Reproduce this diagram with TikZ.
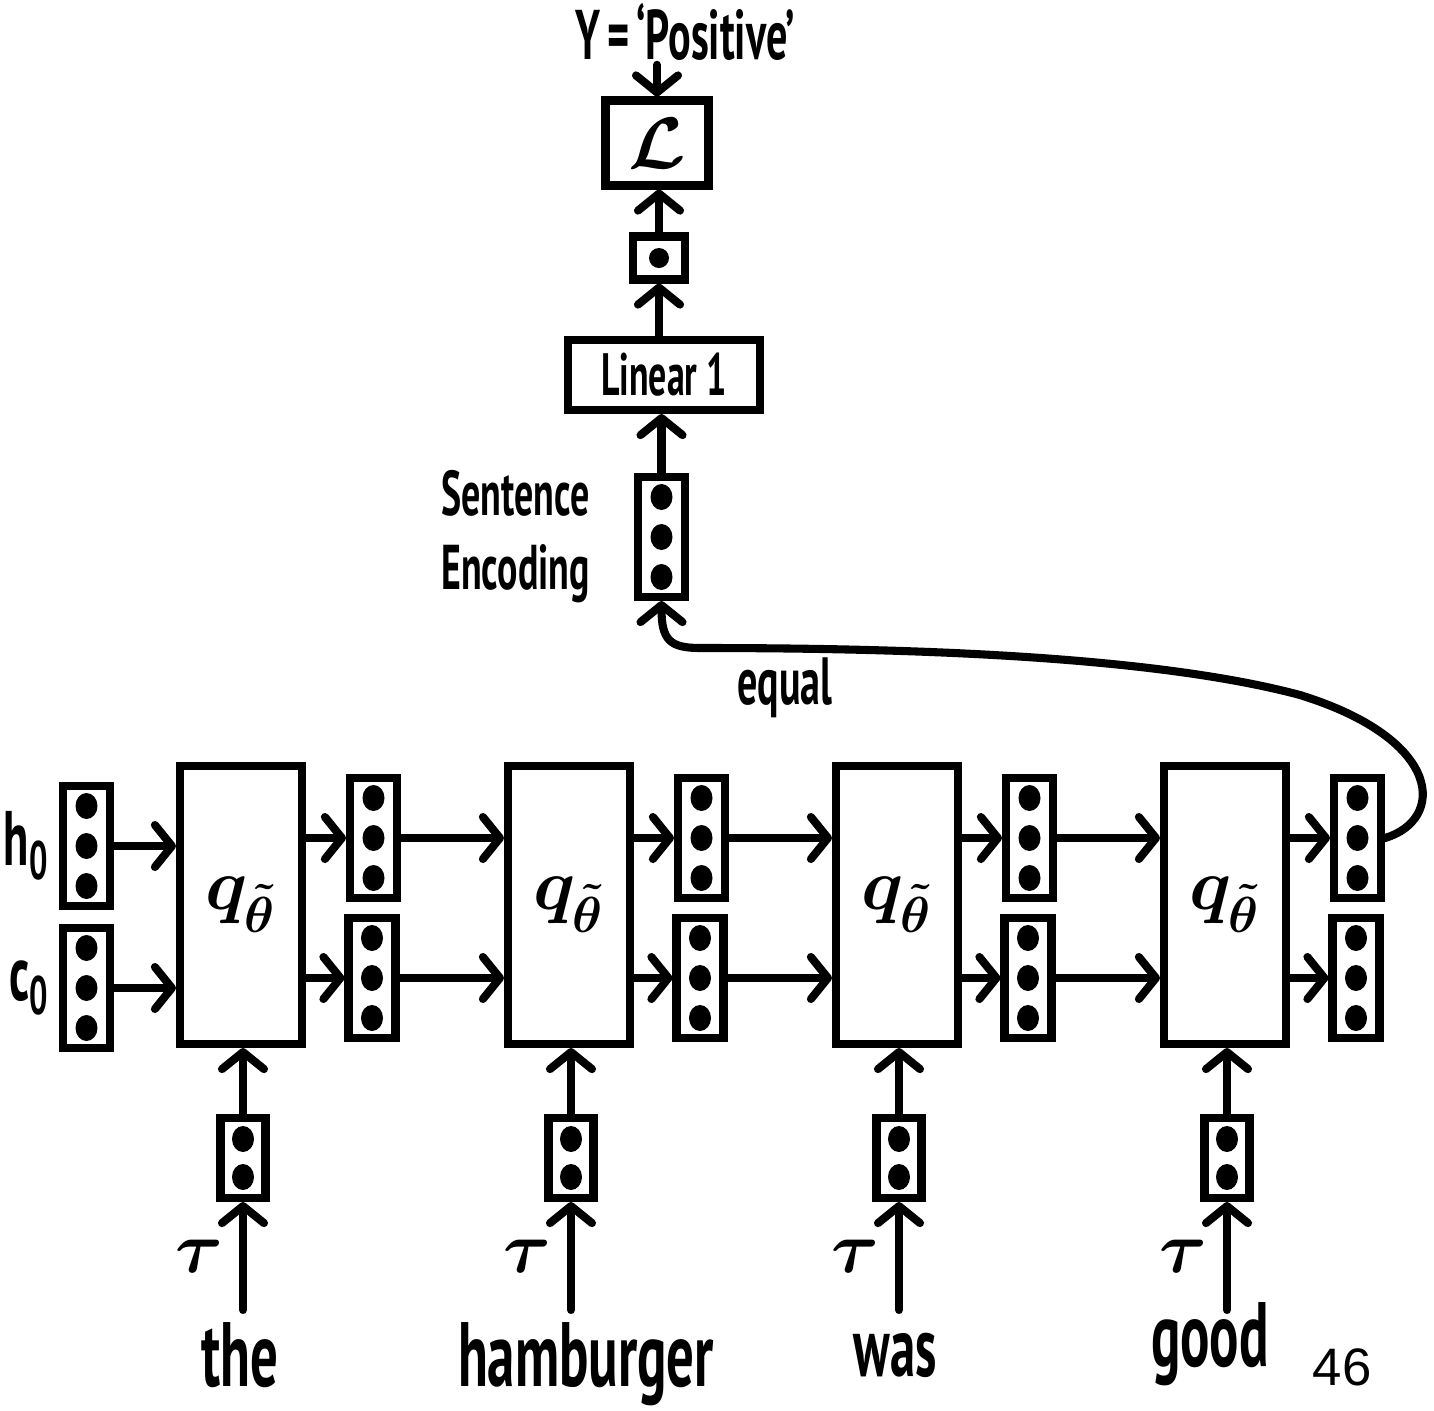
\documentclass[tikz,border=0pt]{standalone}
\usepackage{fontspec}
\setmainfont{PT Sans}
\newfontfamily\pagefont{Liberation Sans}
\usepackage{amsmath, bm}
\usepackage{graphicx}
\usetikzlibrary{positioning, arrows.meta}
\newcommand{\hand}[1]{\scalebox{0.6}[1]{#1}}

\begin{document}
\begin{tikzpicture}[
        vec/.style={draw, line width=2.3pt, minimum width=0.47cm, minimum height=1.2cm, inner sep=0pt},
        wordvec/.style={vec, minimum width=0.45cm, minimum height=0.8cm},
        cell/.style={draw, line width=2.3pt, minimum width=1.22cm, minimum height=2.78cm, font=\huge},
        box/.style={draw, line width=2.3pt, inner sep=0pt},
        arrow/.style={-{Straight Barb[round, length=1.7mm, width=4.2mm]}, line width=2.3pt, line cap=round},
        hand/.style={font=\bfseries\fontsize{#1}{#1}\selectfont, inner sep=1pt},
        hand/.default=22
        ]
        \useasboundingbox (0,0) rectangle (14.34,-14.11);

        % Output side
        \node[hand=20] (target) at (6.85,-0.32) {\hand{Y\,=\,`Positive'}};
        \node[box, minimum width=1.03cm, minimum height=0.85cm, font=\huge] (loss) at (6.57,-1.43) {$\bm{\mathcal{L}}$};
        \node[box, minimum width=0.52cm, minimum height=0.43cm] (prob) at (6.59,-2.58) {};
        \node[box, minimum width=1.92cm, minimum height=0.70cm, hand=17] (linear) at (6.64,-3.75) {\hand{Linear 1}};
        \node[vec] (senc) at (6.615,-5.37) {};
        \node[hand={18}, align=center, left=0.4cm of senc] (senclab) {\hand{Sentence}\\[3pt]\hand{Encoding}};

        % Initial states
        \node[vec] (h0) at (0.865,-8.46) {};
        \node[vec] (c0) at (0.865,-9.88) {};
        \node[hand=22, left=0.06cm of h0] (h0lab) {\hand{h\textsubscript{0}}};
        \node[hand=22, left=0.06cm of c0] (c0lab) {\hand{c\textsubscript{0}}};

        % LSTM cells, hidden / cell states, word vectors
        \foreach \i in {1,...,4} {
            \node[cell] (cell\i) at ({2.41+(\i-1)*3.28}, -9.05) {$\bm{q_{\tilde{\theta}}}$};
            \node[vec] (htop\i) at ({3.735+(\i-1)*3.28}, -8.38) {};
            \node[vec] (hbot\i) at ({3.72+(\i-1)*3.28}, -9.78) {};
            \node[wordvec] (emb\i) at ({2.43+(\i-1)*3.28}, -11.58) {};
            \coordinate (in\i) at ({2.43+(\i-1)*3.28}, -13.10);
        }

        % Words
        \node[hand=26, anchor=base] (w1) at (2.40,-13.86) {\hand{the}};
        \node[hand=26, anchor=base] (w2) at (5.86,-13.86) {\hand{hamburger}};
        \node[hand=24, anchor=base] (w3) at (8.95,-13.76) {\hand{was}};
        \node[hand=26, anchor=base] (w4) at (12.10,-13.66) {\hand{good}};
        \node[font=\pagefont\fontsize{15}{15}\selectfont, anchor=base] (page) at (13.42,-13.85) {46};

        % Dots in the vectors
        \foreach \v in {h0,c0,senc,htop1,htop2,htop3,htop4,hbot1,hbot2,hbot3,hbot4} {
            \foreach \dy in {0.4,0,-0.4} {
                \fill (\v.center) ++(0,\dy) ellipse (0.11 and 0.13);
            }
        }
        \foreach \v in {emb1,emb2,emb3,emb4} {
            \foreach \dy in {0.19,-0.19} {
                \fill (\v.center) ++(0,\dy) ellipse (0.11 and 0.13);
            }
        }
        \fill (prob.center) ellipse (0.1 and 0.1);

        % Connections along the sequence
        \draw[arrow] (h0) -- (h0 -| cell1.west);
        \draw[arrow] (c0) -- (c0 -| cell1.west);
        \foreach \i in {1,...,4} {
            \draw[arrow] (cell\i.east |- htop\i) -- (htop\i);
            \draw[arrow] (cell\i.east |- hbot\i) -- (hbot\i);
            \draw[arrow] (emb\i) -- (emb\i |- cell\i.south);
            \draw[arrow] (in\i) -- node[left=1pt, font=\huge] (tau\i) {$\bm{\tau}$} (emb\i);
        }
        \foreach \i/\j in {1/2,2/3,3/4} {
            \draw[arrow] (htop\i) -- (htop\i -| cell\j.west);
            \draw[arrow] (hbot\i) -- (hbot\i -| cell\j.west);
        }

        % Last hidden state becomes the sentence encoding
        \draw[arrow] (htop4.east) .. controls (14.45,-8.2) and (14.45,-7.4) .. (13.0,-6.95)
            .. controls (11.5,-6.55) and (9.0,-6.48) .. (7.0,-6.48)
            .. controls (6.7,-6.48) and (6.615,-6.4) .. (senc.south);
        \node[hand=19] (eqlab) at (7.85,-6.88) {\hand{equal}};

        % Classifier
        \draw[arrow] (senc) -- (senc |- linear.south);
        \draw[arrow] (prob |- linear.north) -- (prob);
        \draw[arrow] (prob) -- (prob |- loss.south);
        \draw[arrow] (target.south -| loss) -- (loss);

\end{tikzpicture}
\end{document}
